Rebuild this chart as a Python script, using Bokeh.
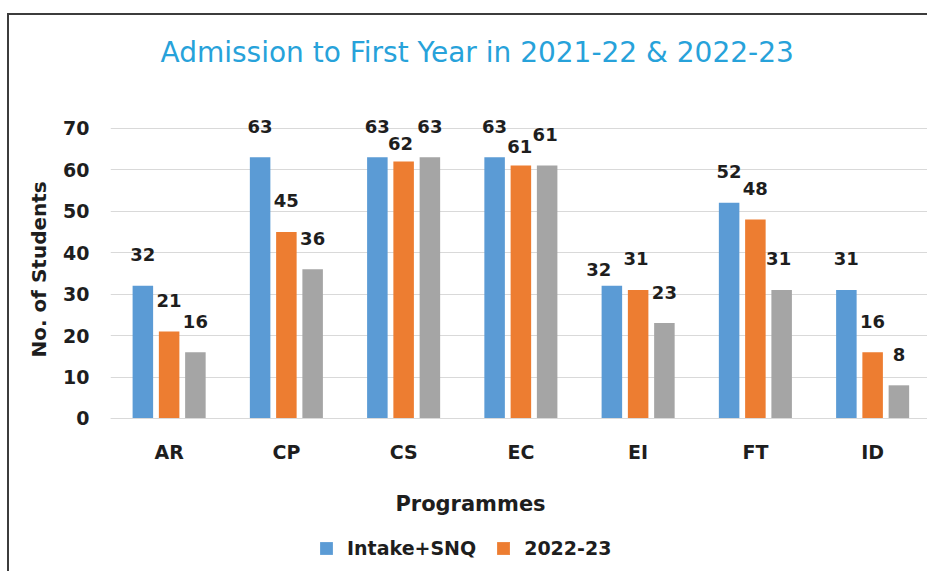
from bokeh.plotting import figure
from bokeh.models import (ColumnDataSource, Range1d, FixedTicker, LabelSet, Legend,
                          LegendItem, Title, Label)
from bokeh.transform import dodge
from bokeh.core.properties import value
from bokeh.embed import file_html
from bokeh.resources import INLINE

# ---- data ----
programmes = ["AR", "CP", "CS", "EC", "EI", "FT", "ID"]
intake_snq = [32, 63, 63, 63, 32, 52, 31]
adm_2022_23 = [21, 45, 62, 61, 31, 48, 16]
adm_2021_22 = [16, 36, 63, 61, 23, 31, 8]
y_ticks = [0, 10, 20, 30, 40, 50, 60, 70]
series_labels = ["Intake+SNQ", "2022-23", "2021-22"]
title_text = "Admission to First Year in 2021-22 & 2022-23"
x_title = "Programmes"
y_title = "No. of Students"

# ---- styling: per-label nudges (pixels) as placed in the original ----
label_dx = [[0, 0, 0, 0, -13, 0, 0],
            [0, 0, -3, -1, -2, 0, 0],
            [0, 0, 0, -2, 0, -3, 0]]
label_dy = [[0, 0, 0, 0, -15, 0, 0],
            [0, 0, -13, -12, 0, 0, 0],
            [0, 0, 0, 0, 0, 0, 0]]
BASE_DY = 31

colors = ["#5B9BD5", "#ED7D31", "#A5A5A5"]
FONT = "DejaVu Sans"
TXT = "#1E1E1E"

idx = list(range(len(programmes)))
series = [intake_snq, adm_2022_23, adm_2021_22]
data = dict(x=idx)
for i, s in enumerate(series):
    data[f"s{i}"] = s
    data[f"t{i}"] = [str(v) for v in s]
    data[f"dx{i}"] = label_dx[i]
    data[f"dy{i}"] = [BASE_DY + d for d in label_dy[i]]
src = ColumnDataSource(data)

# frame spans the full canvas height; the x axis is pinned at y = 0
p = figure(width=920, height=558,
           x_range=Range1d(-0.5, 6.485), y_range=Range1d(-37.38, 97.18),
           output_backend="svg", toolbar_location=None,
           min_border_left=101, min_border_right=0,
           min_border_top=0, min_border_bottom=0)
p.title.visible = False
p.outline_line_color = None
p.background_fill_color = "white"
p.border_fill_color = "white"
p.styles = {"border-top": "2px solid #3C3C3C", "border-left": "2px solid #3C3C3C",
            "margin-left": "7px", "margin-top": "13px"}

offsets = [-0.224, 0.0, 0.224]
renderers = []
for i, off in enumerate(offsets):
    r = p.vbar(x=dodge("x", off), top=f"s{i}", width=0.175, source=src,
               fill_color=colors[i], line_color=None)
    renderers.append(r)
    lbl = LabelSet(x=dodge("x", off), y=f"s{i}", text=f"t{i}", source=src,
                   x_offset=f"dx{i}", y_offset=f"dy{i}",
                   text_align="center", text_baseline="middle",
                   text_font=value(FONT), text_font_style="bold",
                   text_font_size="18px", text_color=TXT)
    p.add_layout(lbl)

# x axis pinned at zero
p.xaxis.fixed_location = 0
p.xaxis.ticker = FixedTicker(ticks=idx)
p.xaxis.major_label_overrides = {i: c for i, c in zip(idx, programmes)}
p.xaxis.major_tick_line_color = None
p.xaxis.minor_tick_line_color = None
p.xaxis.axis_line_color = "#D9D9D9"
p.xaxis.major_label_standoff = 17
p.xaxis.major_label_text_font = FONT
p.xaxis.major_label_text_font_style = "bold"
p.xaxis.major_label_text_font_size = "19px"
p.xaxis.major_label_text_color = TXT

p.yaxis.ticker = FixedTicker(ticks=y_ticks)
p.yaxis.major_tick_line_color = None
p.yaxis.minor_tick_line_color = None
p.yaxis.axis_line_color = None
p.yaxis.major_label_standoff = 15
p.yaxis.major_label_text_font = FONT
p.yaxis.major_label_text_font_style = "bold"
p.yaxis.major_label_text_font_size = "19px"
p.yaxis.major_label_text_color = TXT

p.xgrid.grid_line_color = None
p.ygrid.ticker = FixedTicker(ticks=y_ticks)
p.ygrid.grid_line_color = "#D9D9D9"
p.ygrid.grid_line_width = 1

# chart title
tt = Label(x=50, y=521, x_units="screen", y_units="screen", text=title_text,
           text_align="left", text_baseline="middle",
           text_font=FONT, text_font_style="normal",
           text_font_size="28px", text_color="#27A2DA")
p.add_layout(tt)

# y axis title (placed beside the value axis)
yt = Title(text=y_title, align="left", offset=216, text_font=FONT,
           text_font_style="bold", text_font_size="20px", text_color=TXT,
           standoff=19)
p.add_layout(yt, "left")

# x axis title
xt = Label(x=360, y=70, x_units="screen", y_units="screen", text=x_title,
           text_align="center", text_baseline="middle",
           text_font=FONT, text_font_style="bold",
           text_font_size="21px", text_color=TXT)
p.add_layout(xt)

legend = Legend(items=[LegendItem(label=series_labels[0], renderers=[renderers[0]]),
                       LegendItem(label=series_labels[1], renderers=[renderers[1]])],
                orientation="horizontal", location=(208, 14),
                border_line_color=None, background_fill_alpha=0,
                glyph_width=16, glyph_height=16, label_standoff=13, spacing=19,
                padding=0, margin=0,
                label_text_font=FONT, label_text_font_style="bold",
                label_text_font_size="19px", label_text_color=TXT)
p.add_layout(legend, "center")

open("out.html", "w").write(file_html(p, INLINE))
